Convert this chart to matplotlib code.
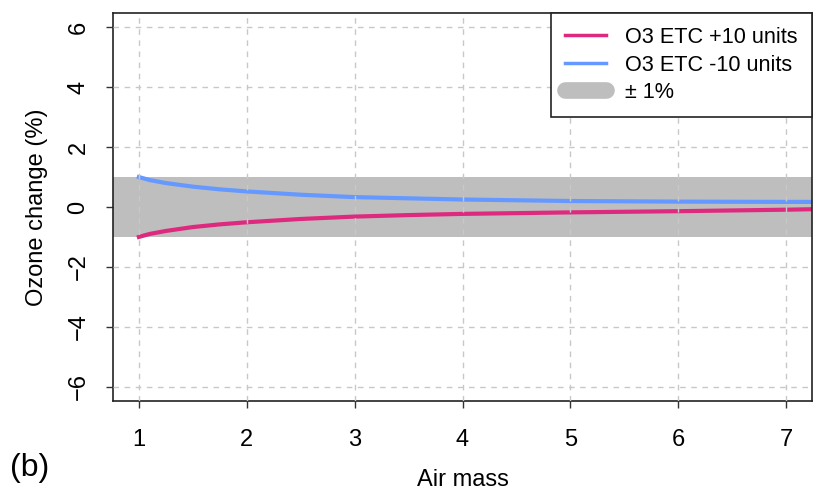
import matplotlib
matplotlib.use("Agg")
import matplotlib.pyplot as plt
from matplotlib.lines import Line2D

# 字体设置
plt.rcParams['font.family'] = ['Liberation Sans', 'DejaVu Sans']

# 数据：气团量与臭氧变化（%）
air_mass = [1.0, 1.1, 1.25, 1.5, 1.75, 2.0, 2.5, 3.0, 3.5, 4.0, 5.0, 6.0, 7.0, 7.3]
o3_plus10 = [-1.0, -0.9, -0.8, -0.67, -0.58, -0.51, -0.40, -0.32, -0.27, -0.23, -0.18, -0.14, -0.09, -0.07]
o3_minus10 = [1.0, 0.9, 0.8, 0.68, 0.59, 0.52, 0.41, 0.33, 0.29, 0.25, 0.20, 0.18, 0.17, 0.17]
band_limit = 1.0
x_ticks = [1, 2, 3, 4, 5, 6, 7]
y_ticks = [-6, -4, -2, 0, 2, 4, 6]

red = '#DE2A7E'
blue = '#6699FF'
grey = '#BEBEBE'

fig = plt.figure(figsize=(8.16, 4.93), dpi=100)
ax = fig.add_axes([113 / 816, 92 / 493, 699 / 816, 388 / 493])

# 灰色 ±1% 区间
ax.axhspan(-band_limit, band_limit, color=grey, lw=0, zorder=1)

# 两条曲线
ax.plot(air_mass, o3_plus10, color=red, lw=3, zorder=2)
ax.plot(air_mass, o3_minus10, color=blue, lw=3, zorder=2)

# 网格
for xv in x_ticks:
    ax.axvline(xv, color='#C8C8C8', lw=1, ls=(0, (4, 4)), zorder=3)
for yv in y_ticks:
    if yv != 0:
        ax.axhline(yv, color='#C8C8C8', lw=1, ls=(0, (4, 4)), zorder=3)

ax.set_xlim(0.76, 7.24)
ax.set_ylim(-6.48, 6.48)
ax.set_xticks(x_ticks)
ax.set_yticks(y_ticks)
ax.tick_params(axis='both', direction='out', length=5, width=1, labelsize=17, color='#333333')
ax.tick_params(axis='x', pad=15)
ax.tick_params(axis='y', pad=12)
for lab in ax.get_yticklabels():
    lab.set_rotation(90)
    lab.set_va('center')

for s in ax.spines.values():
    s.set_linewidth(1.2)
    s.set_color('#222222')

ax.set_xlabel('Air mass', fontsize=17, labelpad=13)
ax.set_ylabel('Ozone change (%)', fontsize=17, labelpad=14)

# 图例
handles = [
    Line2D([], [], color=red, lw=2.5),
    Line2D([], [], color=blue, lw=2.5),
    Line2D([], [], color=grey, lw=12, solid_capstyle='round'),
]
labels = ['O3 ETC +10 units', 'O3 ETC -10 units', '± 1%']
leg = ax.legend(handles, labels, loc='upper right', bbox_to_anchor=(1, 1),
                borderaxespad=0, fontsize=15.6, fancybox=False, framealpha=1,
                edgecolor='#222222', handlelength=1.9, handletextpad=0.9,
                borderpad=0.65, labelspacing=0.3)
leg.get_frame().set_linewidth(1.2)

# 子图标号
fig.text(10 / 816, 1 - 468 / 493, '(b)', fontsize=23, va='center', ha='left')

fig.savefig('out.png', dpi=100)
